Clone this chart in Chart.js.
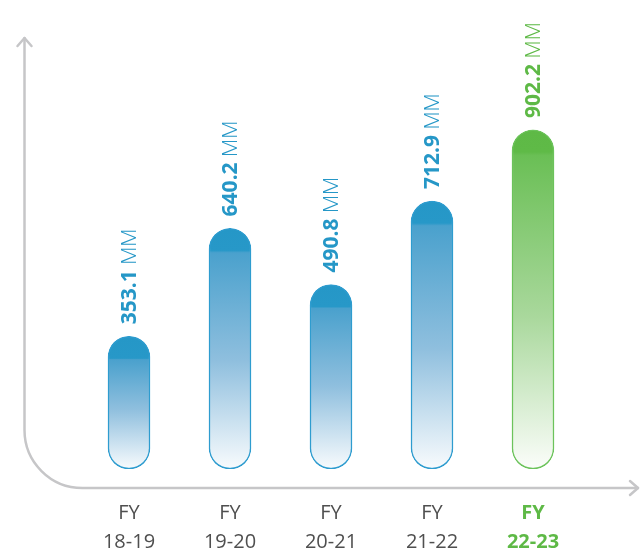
<!DOCTYPE html>
<html>
<head>
<meta charset="utf-8">
<script src="https://cdn.jsdelivr.net/npm/chart.js@4.4.1/dist/chart.umd.min.js"></script>
<style>
  html, body { margin: 0; padding: 0; background: #ffffff; }
  #chart { display: block; }
</style>
</head>
<body>
<canvas id="chart" width="640" height="556"></canvas>
<script>
// Data
const fyLabels = ['FY', 'FY', 'FY', 'FY', 'FY'];
const periods = ['18-19', '19-20', '20-21', '21-22', '22-23'];
const values = [353.1, 640.2, 490.8, 712.9, 902.2];
const unit = 'MM';
const highlightIndex = 4;

const BLUE = '#2597c7';
const GREEN = '#5eb946';
const FONT = "'Open Sans', 'DejaVu Sans', sans-serif";

function barGradient(context) {
    const chart = context.chart;
    const y = chart.scales.y;
    const solid = context.dataIndex === highlightIndex ? GREEN : BLUE;
    if (!y || !chart.chartArea) return solid;
    const top = y.getPixelForValue(context.raw);
    const bottom = y.getPixelForValue(0);
    if (!isFinite(top) || !isFinite(bottom)) return solid;
    const h = Math.max(bottom - top, 1);
    const cap = Math.min(22 / h, 0.5);
    const g = chart.ctx.createLinearGradient(0, top, 0, bottom);
    if (context.dataIndex === highlightIndex) {
        g.addColorStop(0, '#5eb946');
        g.addColorStop(cap, '#5fba47');
        g.addColorStop(cap + 0.01, '#6abf55');
        g.addColorStop(0.55, '#a9d89c');
        g.addColorStop(1, '#fbfdfa');
    } else {
        g.addColorStop(0, '#2597c7');
        g.addColorStop(cap, '#2798c8');
        g.addColorStop(cap + 0.01, '#4aa1cd');
        g.addColorStop(0.55, '#8fbfde');
        g.addColorStop(1, '#f8fbfd');
    }
    return g;
}

// Rounded L-shaped axis with open arrowheads
const axisPlugin = {
    id: 'curvedAxis',
    beforeDatasetsDraw(chart) {
        const ctx = chart.ctx;
        const baseY = chart.chartArea.bottom + 19;
        const x0 = 24.5, r = 58;
        ctx.save();
        ctx.strokeStyle = '#c6c6c8';
        ctx.lineWidth = 2.5;
        ctx.lineCap = 'round';
        ctx.lineJoin = 'round';
        ctx.beginPath();
        ctx.moveTo(x0, 38);
        ctx.lineTo(x0, baseY - r);
        ctx.arcTo(x0, baseY, x0 + r, baseY, r);
        ctx.lineTo(638, baseY);
        ctx.stroke();
        ctx.beginPath();
        ctx.moveTo(x0 - 7, 46);
        ctx.lineTo(x0, 38);
        ctx.lineTo(x0 + 7, 46);
        ctx.moveTo(630, baseY - 7);
        ctx.lineTo(638, baseY);
        ctx.lineTo(630, baseY + 7);
        ctx.stroke();
        ctx.restore();
    }
};

// Rotated value labels above each bar
const valueLabelPlugin = {
    id: 'valueLabels',
    afterDatasetsDraw(chart) {
        const ctx = chart.ctx;
        const meta = chart.getDatasetMeta(0);
        meta.data.forEach((bar, i) => {
            const color = i === highlightIndex ? GREEN : BLUE;
            const num = values[i].toFixed(1);
            ctx.save();
            ctx.translate(bar.x + 1, bar.y - 12);
            ctx.rotate(-Math.PI / 2);
            ctx.fillStyle = color;
            ctx.textBaseline = 'middle';
            ctx.textAlign = 'left';
            ctx.font = `bold 21px ${FONT}`;
            ctx.fillText(num, 0, 0);
            const w = ctx.measureText(num + ' ').width;
            ctx.font = `300 21px ${FONT}`;
            ctx.fillText(unit, w, 0);
            ctx.restore();
        });
    }
};

new Chart(document.getElementById('chart'), {
    type: 'bar',
    data: {
        labels: fyLabels.map((f, i) => [f, periods[i]]),
        datasets: [{
            data: values,
            backgroundColor: barGradient,
            borderColor: (c) => c.dataIndex === highlightIndex ? '#6cc35b' : '#2e9ccf',
            borderWidth: 1.5,
            borderRadius: 21,
            borderSkipped: false,
            barThickness: 42
        }]
    },
    options: {
        responsive: false,
        animation: false,
        layout: {
            padding: { left: 78.5, right: 56.5, top: 18, bottom: 0 }
        },
        plugins: {
            legend: { display: false },
            tooltip: { enabled: false }
        },
        scales: {
            x: {
                grid: { display: false },
                border: { display: false },
                afterFit: (scale) => { scale.height = 87; },
                ticks: {
                    padding: 22,
                    autoSkip: false,
                    maxRotation: 0,
                    color: (c) => c.index === highlightIndex ? GREEN : '#4f4f4f',
                    font: (c) => ({
                        family: FONT,
                        size: 20,
                        lineHeight: 1.45,
                        weight: c.index === highlightIndex ? 'bold' : '400'
                    })
                }
            },
            y: {
                display: false,
                min: 0,
                max: 1200
            }
        }
    },
    plugins: [axisPlugin, valueLabelPlugin]
});
</script>
</body>
</html>
